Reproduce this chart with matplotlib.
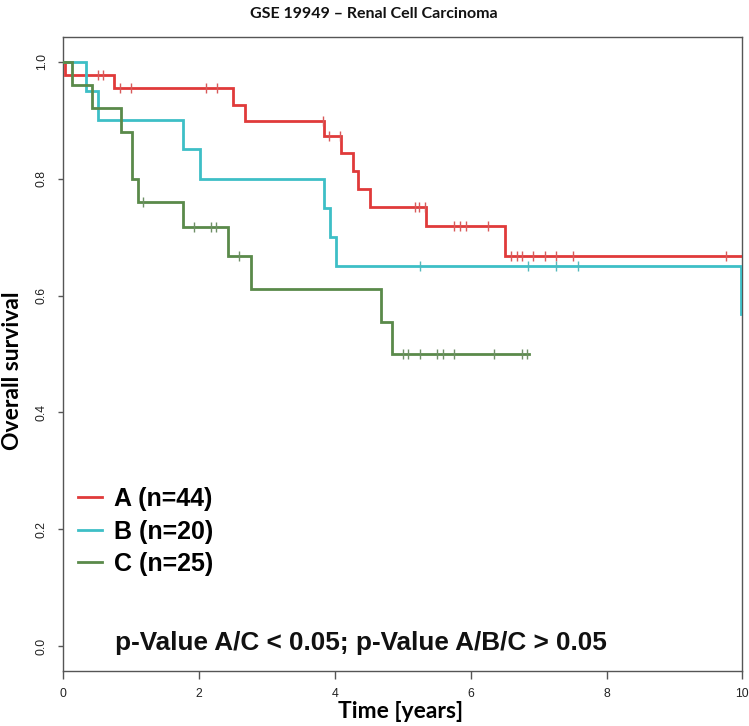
import numpy as np
import matplotlib
matplotlib.use("Agg")
import matplotlib.pyplot as plt
from matplotlib import font_manager

# ---------------- data ----------------
# group A (red)
a_times = [0.0, 0.03, 0.75, 2.50, 2.68, 3.84, 4.09, 4.26, 4.34, 4.51, 5.34, 6.50]
a_surv = [1.0, 0.977, 0.954, 0.926, 0.899, 0.872, 0.843, 0.813, 0.782, 0.752, 0.719, 0.668]
a_end = 10.0
a_cens = [0.51, 0.59, 0.835, 1.0, 2.10, 2.26, 3.83, 3.92, 4.08, 5.18, 5.24, 5.33,
          5.76, 5.84, 5.93, 6.26, 6.59, 6.68, 6.76, 6.92, 7.09, 7.26, 7.51, 9.76]

# group B (cyan)
b_times = [0.0, 0.34, 0.51, 1.76, 2.01, 3.84, 3.93, 4.01, 9.98]
b_surv = [1.0, 0.95, 0.90, 0.85, 0.80, 0.75, 0.70, 0.651, 0.569]
b_end = 10.0
b_cens = [5.25, 6.84, 7.26, 7.58]

# group C (green)
c_times = [0.0, 0.13, 0.43, 0.845, 1.01, 1.10, 1.76, 2.42, 2.76, 4.68, 4.84]
c_surv = [1.0, 0.96, 0.92, 0.88, 0.80, 0.76, 0.718, 0.667, 0.611, 0.555, 0.50]
c_end = 6.86
c_cens = [1.17, 1.93, 2.18, 2.25, 2.59, 5.00, 5.08, 5.26, 5.51, 5.59, 5.75,
          6.34, 6.76, 6.83]

labels = ["A (n=44)", "B (n=20)", "C (n=25)"]
colors = ["#e03a3a", "#3dbfc6", "#5a8a4a"]
cens_colors = ["#d85a5a", "#55b8bc", "#6f8f66"]

title = "GSE 19949 \u2013 Renal Cell Carcinoma"
xlabel = "Time [years]"
ylabel = "Overall survival"
ptext = "p-Value A/C < 0.05; p-Value A/B/C > 0.05"
xticks = [0, 2, 4, 6, 8, 10]
yticks = [0.0, 0.2, 0.4, 0.6, 0.8, 1.0]
ytick_labels = ["0.0", "0.2", "0.4", "0.6", "0.8", "1.0"]

# ---------------- fonts ----------------
avail = {f.name for f in font_manager.fontManager.ttflist}
def pick(*names):
    for n in names:
        if n in avail:
            return n
    return "DejaVu Sans"
f_tick = pick("Liberation Sans", "DejaVu Sans")
f_lab = pick("Lato", "Open Sans", "DejaVu Sans")
f_leg = pick("Liberation Sans", "DejaVu Sans")

# ---------------- figure ----------------
W, H = 749, 726
fig = plt.figure(figsize=(W / 100, H / 100), dpi=100)
ax = fig.add_axes([63.3 / W, 1 - 670.7 / H, (742.3 - 63.3) / W, (670.7 - 37.3) / H])
ax.set_xlim(0, 10)
ax.set_ylim(-0.0415, 1.0415)

groups = [(a_times, a_surv, a_end, a_cens), (b_times, b_surv, b_end, b_cens),
          (c_times, c_surv, c_end, c_cens)]
for (t, s, end, cens), col, ccol, lab in zip(groups, colors, cens_colors, labels):
    tt = list(t) + [end]
    ss = list(s) + [s[-1]]
    ax.step(tt, ss, where="post", color=col, lw=2.0, solid_joinstyle="miter", label=lab,
            zorder=3)
    idx = np.searchsorted(np.array(t), np.array(cens), side="right") - 1
    cy = np.array(s)[idx]
    ax.plot(cens, cy, linestyle="none", marker="|", markersize=6.5, markeredgewidth=1.0,
            color=ccol, zorder=4)

for sp in ax.spines.values():
    sp.set_color("#555555")
    sp.set_linewidth(1.0)

ax.set_xticks(xticks)
ax.set_xticklabels([str(v) for v in xticks], fontfamily=f_tick, fontsize=8.8, color="#222222")
ax.set_yticks(yticks)
ax.set_yticklabels(ytick_labels, fontfamily=f_tick, fontsize=8.8, color="#222222",
                   rotation=90, va="center")
ax.tick_params(axis="x", length=5.5, width=1.0, color="#555555", pad=7)
ax.tick_params(axis="y", length=3.6, width=1.0, color="#555555", pad=7.5)

# legend
leg = ax.legend(loc="upper left", bbox_to_anchor=(78 / W, 1 - 487 / H),
                bbox_transform=fig.transFigure, frameon=False,
                prop={"family": f_leg, "weight": "bold", "size": 18},
                handlelength=0.95, handletextpad=0.5, labelspacing=0.34,
                borderaxespad=0.0, borderpad=0.0)
for h in leg.get_lines():
    h.set_linewidth(2.0)

ax.text(115.3 / W, 1 - 643 / H, ptext, transform=fig.transFigure, fontfamily=f_leg,
        fontweight="bold", fontsize=18.8, ha="left", va="center", color="#111111")

fig.text(374 / W, 1 - 14 / H, title, fontfamily=f_lab, fontweight="bold", fontsize=11.5,
         ha="center", va="center", color="#111111")
fig.text(401 / W, 1 - 712 / H, xlabel, fontfamily=f_lab, fontweight="bold", fontsize=16.5,
         ha="center", va="center", color="#000000")
fig.text(13 / W, 1 - 371 / H, ylabel, fontfamily=f_lab, fontweight="bold", fontsize=16.5,
         ha="center", va="center", rotation=90, color="#000000")

fig.savefig("out.png", dpi=100)
